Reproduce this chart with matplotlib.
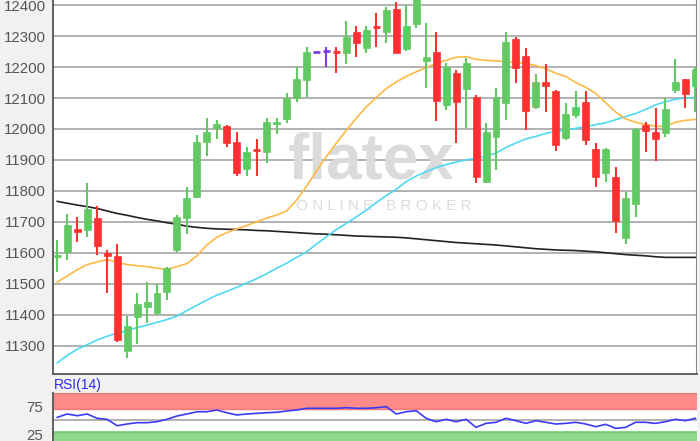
import numpy as np
import matplotlib
matplotlib.use("Agg")
import matplotlib.pyplot as plt

plt.rcParams['font.family'] = ['Liberation Sans', 'DejaVu Sans']

# OHLC (65 daily candles)
opens = [11588, 11603, 11676, 11673, 11711, 11600, 11590, 11283, 11391, 11426,
         11404, 11474, 11609, 11711, 11779, 11957, 12002, 12010, 11959, 11870,
         11934, 11927, 12016, 12031, 12099, 12158, 12250, 12253, 12250, 12247,
         12315, 12261, 12333, 12315, 12387, 12258, 12340, 12221, 12250, 12078,
         12182, 12128, 12102, 11830, 11975, 12085, 12290, 12236, 12070, 12153,
         12124, 11970, 12045, 12088, 11934, 11859, 11844, 11647, 11758, 12013,
         11991, 11988, 12126, 12161, 12139]
highs = [11641, 11725, 11716, 11826, 11751, 11609, 11628, 11395, 11470, 11506,
         11499, 11555, 11722, 11811, 11981, 12035, 12029, 12012, 11991, 11943,
         11967, 12034, 12034, 12117, 12201, 12266, 12250, 12264, 12264, 12350,
         12333, 12333, 12374, 12393, 12412, 12401, 12460, 12344, 12315, 12212,
         12191, 12229, 12110, 12020, 12131, 12315, 12297, 12261, 12178, 12210,
         12126, 12085, 12124, 12124, 11954, 11937, 11876, 11797, 12002, 12024,
         12067, 12099, 12225, 12163, 12201]
lows = [11538, 11576, 11636, 11652, 11593, 11471, 11312, 11259, 11305, 11372,
        11399, 11447, 11603, 11661, 11776, 11913, 11967, 11943, 11848, 11848,
        11848, 11889, 11983, 12020, 12088, 12102, 12250, 12201, 12180, 12210,
        12234, 12247, 12264, 12279, 12245, 12253, 12325, 12132, 12027, 12062,
        11956, 12002, 11826, 11826, 11868, 12029, 12150, 11997, 12064, 12056,
        11930, 11965, 12035, 11948, 11812, 11830, 11665, 11628, 11715, 11927,
        11898, 11973, 12117, 12067, 12056]
closes = [11593, 11689, 11668, 11741, 11623, 11589, 11318, 11363, 11434, 11442,
          11471, 11550, 11715, 11776, 11959, 11989, 12016, 11956, 11859, 11927,
          11930, 12024, 12024, 12099, 12161, 12250, 12250, 12253, 12247, 12297,
          12277, 12320, 12329, 12385, 12247, 12333, 12445, 12232, 12092, 12201,
          12088, 12214, 11844, 11991, 12104, 12282, 12196, 12059, 12153, 12139,
          11948, 12049, 12072, 11965, 11844, 11934, 11704, 11778, 11999, 11995,
          11967, 12064, 12153, 12113, 12193]

# moving averages (orange, cyan, black)
ma_orange = [11505, 11525, 11545, 11562, 11570, 11578, 11568, 11562, 11558, 11555,
             11550, 11546, 11555, 11565, 11590, 11625, 11650, 11665, 11677, 11688,
             11700, 11712, 11722, 11735, 11770, 11815, 11865, 11911, 11955, 11996,
             12035, 12072, 12102, 12131, 12152, 12170, 12185, 12198, 12212, 12222,
             12232, 12234, 12225, 12222, 12220, 12218, 12215, 12212, 12205, 12195,
             12180, 12170, 12150, 12135, 12115, 12085, 12055, 12033, 12022, 12015,
             12009, 12008, 12022, 12028, 12031]
ma_cyan = [11244, 11268, 11288, 11303, 11318, 11330, 11340, 11348, 11358, 11366,
           11375, 11384, 11395, 11413, 11430, 11447, 11463, 11475, 11488, 11502,
           11516, 11532, 11550, 11566, 11585, 11603, 11628, 11652, 11675, 11695,
           11716, 11738, 11762, 11785, 11805, 11830, 11848, 11862, 11875, 11885,
           11893, 11900, 11905, 11912, 11922, 11940, 11955, 11968, 11976, 11986,
           11992, 11996, 12002, 12008, 12014, 12020, 12030, 12040, 12050, 12063,
           12078, 12088, 12096, 12100, 12102]
ma_black = [11766, 11760, 11754, 11749, 11743, 11735, 11727, 11721, 11714, 11708,
            11703, 11697, 11692, 11686, 11682, 11679, 11677, 11676, 11675, 11674,
            11672, 11671, 11669, 11667, 11665, 11663, 11661, 11660, 11658, 11656,
            11654, 11653, 11652, 11651, 11650, 11648, 11645, 11642, 11639, 11636,
            11633, 11631, 11629, 11627, 11625, 11622, 11619, 11616, 11613, 11611,
            11609, 11608, 11607, 11605, 11603, 11600, 11597, 11594, 11592, 11590,
            11587, 11585, 11585, 11585, 11585]

rsi = [55.5, 61.5, 58.4, 61.5, 53.7, 51.9, 40.3, 43.4, 45.8, 45.8,
       47.6, 51.9, 57.9, 61.5, 65.6, 65.6, 68.7, 63.8, 59.7, 61.5,
       62.7, 63.8, 64.6, 66.9, 68.7, 71.8, 71.8, 71.8, 71.8, 72.9,
       71.8, 71.8, 72.9, 74.7, 61.5, 65.6, 67.4, 53.7, 47.6, 51.9,
       47.6, 51.9, 37.4, 44.6, 46.5, 53.7, 49.4, 44.6, 49.4, 46.5,
       43.4, 44.6, 46.5, 43.4, 38.5, 42.8, 35.6, 37.4, 46.5, 46.5,
       44.6, 47.6, 51.9, 49.4, 53.7]

price_ticks = [11300, 11400, 11500, 11600, 11700, 11800, 11900, 12000, 12100, 12200, 12300, 12400]

GREEN = "#62c962"
RED = "#ff3030"
PURPLE = "#7b3fe0"
GRID = "#ababab"
BG = "#f1f1f1"

x = np.arange(1, len(opens) + 1)

fig = plt.figure(figsize=(7, 4.41), dpi=100, facecolor=BG)
ax = fig.add_axes([53 / 700, 1 - 374 / 441, 644 / 700, 374 / 441])
ax_rsi = fig.add_axes([53 / 700, 0, 644 / 700, 1 - 392.7 / 441])

ax.set_facecolor("white")
for yv in price_ticks:
    ax.axhline(yv, color=GRID, lw=1.3, zorder=0)

# watermark
ax.text((371 - 53) / 644, (374 - 161) / 374, "flatex", transform=ax.transAxes,
        fontsize=46, fontweight="bold", color="#dbdbdb", ha="center", va="center", zorder=0.5)
ax.text((384 - 53) / 644, (374 - 206) / 374, "O N L I N E   B R O K E R", transform=ax.transAxes,
        ha="center", va="center", fontsize=11, color="#dcdcdc", zorder=0.5)

ax.plot(x, ma_black, color="#222222", lw=1.2, zorder=1)
ax.plot(x, ma_cyan, color="#4fd8f5", lw=1.2, zorder=1)
ax.plot(x, ma_orange, color="#fdb944", lw=1.2, zorder=1)

for i, o, h, l, c in zip(x, opens, highs, lows, closes):
    if c > o:
        col = GREEN
    elif c < o:
        col = RED
    else:
        col = PURPLE
    ax.vlines(i, l, h, color=col, lw=1.5, zorder=2)
    if abs(c - o) < 6:
        ax.hlines((o + c) / 2, i - 0.36, i + 0.36, color=col, lw=2, zorder=3)
    else:
        ax.bar(i, c - o, bottom=o, width=0.7, color=col, edgecolor=col, lw=0.5, zorder=3)

ax.set_xlim(0.57, 65.16)
ax.set_ylim(11208, 12417)
ax.set_yticks(price_ticks)
ax.set_xticks([])
ax.tick_params(axis="y", length=0, pad=5, labelsize=10.8, labelcolor="#555555")
for side in ["top", "right"]:
    ax.spines[side].set_visible(False)
ax.spines["left"].set_color("#555555")
ax.spines["bottom"].set_color("#555555")
ax.spines["left"].set_linewidth(1.3)
ax.spines["bottom"].set_linewidth(1.3)
ax.axvline(65.16, color="#888888", lw=1.5)

# RSI panel
ax_rsi.set_facecolor("white")
ax_rsi.axhspan(70, 100, color="#ff8a8a", lw=0)
ax_rsi.axhline(99, color="#e06a6a", lw=1.2)
ax_rsi.axhline(71, color="#f07a7a", lw=1.0)
ax_rsi.axhspan(0, 30, color="#8fd98f", lw=0)
ax_rsi.axhline(29, color="#72c872", lw=1.0)
ax_rsi.axhline(50, color=GRID, lw=1.3)
ax_rsi.plot(x, rsi, color="#3a3af5", lw=1.2)
ax_rsi.set_xlim(0.57, 65.16)
ax_rsi.set_ylim(12.7, 100)
ax_rsi.set_yticks([25, 75])
ax_rsi.set_xticks([])
ax_rsi.tick_params(axis="y", length=0, pad=7, labelsize=10.8, labelcolor="#555555")
for side in ["top", "right", "bottom"]:
    ax_rsi.spines[side].set_visible(False)
ax_rsi.spines["left"].set_color("#555555")
ax_rsi.spines["left"].set_linewidth(1.3)

fig.text(54 / 700, 1 - 385 / 441, "RSI(14)", ha="left", va="center", fontsize=10, color="#2a2af0")

fig.savefig("out.png", dpi=100, facecolor=BG)
